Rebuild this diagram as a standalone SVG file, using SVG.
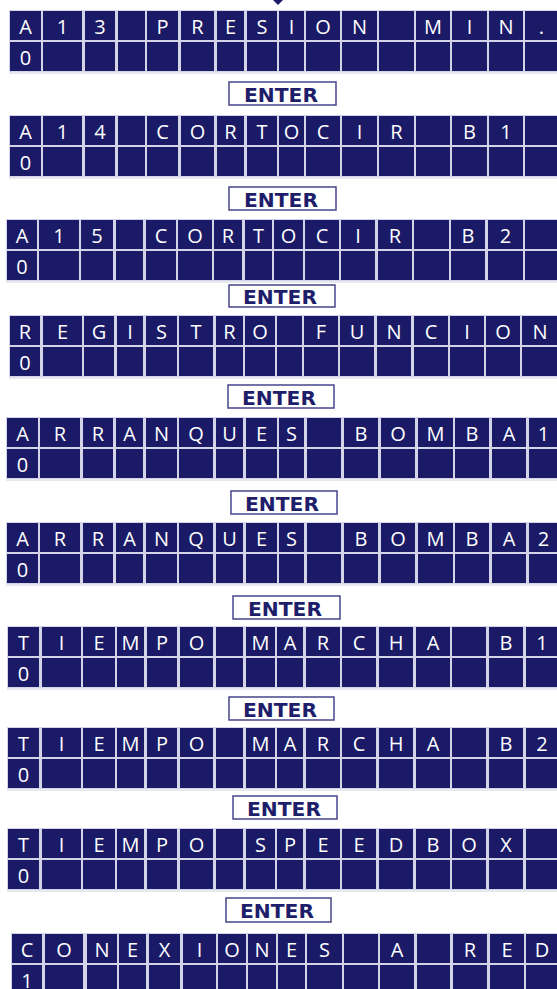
<svg xmlns="http://www.w3.org/2000/svg" xmlns:xlink="http://www.w3.org/1999/xlink" width="557" height="989" viewBox="0 0 557 989">
<style>
.bg{fill:#d4d4e8}
.sh{fill:#e8e8f0}
.c rect{fill:#1a1a66}
.t{font-family:"Open Sans","Noto Sans",sans-serif;font-size:20px;fill:#ffffff;text-anchor:middle}
.eb{fill:#ffffff;stroke:#45458a;stroke-width:1.5}
.et{font-family:"DejaVu Sans","Liberation Sans",sans-serif;font-weight:bold;font-size:19px;fill:#1e1e6a;text-anchor:middle}
</style>
<defs>
<g id="g1" class="c"><rect x="10" width="31" height="29"/><rect x="43" width="39" height="29"/><rect x="85" width="30" height="29"/><rect x="118" width="27" height="29"/><rect x="147" width="31" height="29"/><rect x="181" width="33" height="29"/><rect x="217" width="27" height="29"/><rect x="247" width="30" height="29"/><rect x="279" width="25" height="29"/><rect x="306" width="34" height="29"/><rect x="342" width="35" height="29"/><rect x="379" width="35" height="29"/><rect x="416" width="34" height="29"/><rect x="452" width="35" height="29"/><rect x="489" width="34" height="29"/><rect x="525" width="33" height="29"/></g>
<g id="g3" class="c"><rect x="7" width="30" height="29"/><rect x="39" width="40" height="29"/><rect x="81" width="32" height="29"/><rect x="116" width="27" height="29"/><rect x="146" width="30" height="29"/><rect x="178" width="34" height="29"/><rect x="214" width="28" height="29"/><rect x="245" width="27" height="29"/><rect x="274" width="29" height="29"/><rect x="305" width="34" height="29"/><rect x="341" width="34" height="29"/><rect x="378" width="34" height="29"/><rect x="414" width="35" height="29"/><rect x="451" width="34" height="29"/><rect x="488" width="35" height="29"/><rect x="525" width="33" height="29"/></g>
<g id="g4" class="c"><rect x="10" width="30" height="29"/><rect x="43" width="39" height="29"/><rect x="84" width="30" height="29"/><rect x="117" width="26" height="29"/><rect x="146" width="31" height="29"/><rect x="179" width="34" height="29"/><rect x="216" width="27" height="29"/><rect x="245" width="30" height="29"/><rect x="277" width="25" height="29"/><rect x="304" width="34" height="29"/><rect x="340" width="34" height="29"/><rect x="377" width="34" height="29"/><rect x="414" width="34" height="29"/><rect x="450" width="34" height="29"/><rect x="486" width="34" height="29"/><rect x="522" width="36" height="29"/></g>
<g id="g5" class="c"><rect x="7" width="31" height="29"/><rect x="40" width="40" height="29"/><rect x="83" width="30" height="29"/><rect x="116" width="27" height="29"/><rect x="146" width="31" height="29"/><rect x="179" width="34" height="29"/><rect x="216" width="27" height="29"/><rect x="246" width="31" height="29"/><rect x="279" width="25" height="29"/><rect x="307" width="34" height="29"/><rect x="344" width="34" height="29"/><rect x="381" width="34" height="29"/><rect x="418" width="35" height="29"/><rect x="455" width="34" height="29"/><rect x="492" width="34" height="29"/><rect x="529" width="29" height="29"/></g>
<g id="g7" class="c"><rect x="8" width="31" height="29"/><rect x="42" width="39" height="29"/><rect x="83" width="32" height="29"/><rect x="117" width="27" height="29"/><rect x="147" width="30" height="29"/><rect x="180" width="33" height="29"/><rect x="216" width="27" height="29"/><rect x="246" width="29" height="29"/><rect x="277" width="26" height="29"/><rect x="306" width="34" height="29"/><rect x="342" width="34" height="29"/><rect x="379" width="34" height="29"/><rect x="416" width="34" height="29"/><rect x="452" width="34" height="29"/><rect x="489" width="34" height="29"/><rect x="526" width="32" height="29"/></g>
<g id="g10" class="c"><rect x="12" width="30" height="29"/><rect x="45" width="38" height="29"/><rect x="87" width="30" height="29"/><rect x="119" width="27" height="29"/><rect x="149" width="31" height="29"/><rect x="183" width="33" height="29"/><rect x="218" width="28" height="29"/><rect x="248" width="28" height="29"/><rect x="278" width="27" height="29"/><rect x="307" width="35" height="29"/><rect x="344" width="34" height="29"/><rect x="380" width="34" height="29"/><rect x="417" width="33" height="29"/><rect x="453" width="34" height="29"/><rect x="490" width="34" height="29"/><rect x="526" width="32" height="29"/></g>
</defs>
<rect width="557" height="989" fill="#ffffff"/>
<polygon points="273,0 283,0 278,5" fill="#1a1a66"/>

<g id="lcd1" transform="translate(0,11)">
<rect class="bg" x="9" y="-1" width="549" height="62"/><rect class="sh" x="9" y="61" width="549" height="2"/>
<use href="#g1"/><use href="#g1" y="31"/>
<text class="t" y="23" x="25.5 62.5 100 131.5 162.5 197.5 230.5 262 291.5 323 359.5 396.5 433 469.5 506 541.5">A13 PRESION MIN.</text>
<text class="t" x="25.5" y="54">0</text>
</g>
<g id="enter1"><rect class="eb" x="229" y="82" width="107" height="23"/><text class="et" x="281" y="102" textLength="74" lengthAdjust="spacingAndGlyphs">ENTER</text></g>

<g id="lcd2" transform="translate(0,116)">
<rect class="bg" x="9" y="-1" width="549" height="62"/><rect class="sh" x="9" y="61" width="549" height="2"/>
<use href="#g1"/><use href="#g1" y="31"/>
<text class="t" y="23" x="25.5 62.5 100 131.5 162.5 197.5 230.5 262 291.5 323 359.5 396.5 433 469.5 506 541.5">A14 CORTOCIR B1</text>
<text class="t" x="25.5" y="54">0</text>
</g>
<g id="enter2"><rect class="eb" x="229" y="187" width="107" height="23"/><text class="et" x="281" y="207" textLength="74" lengthAdjust="spacingAndGlyphs">ENTER</text></g>

<g id="lcd3" transform="translate(0,220)">
<rect class="bg" x="6" y="-1" width="552" height="62"/><rect class="sh" x="6" y="61" width="552" height="2"/>
<use href="#g3"/><use href="#g3" y="31"/>
<text class="t" y="23" x="22 59 97 129.5 161 195 228 258.5 288.5 322 358 395 431.5 468 505.5 541.5">A15 CORTOCIR B2</text>
<text class="t" x="22" y="54">0</text>
</g>
<g id="enter3"><rect class="eb" x="229" y="285" width="106" height="22"/><text class="et" x="280" y="304" textLength="74" lengthAdjust="spacingAndGlyphs">ENTER</text></g>

<g id="lcd4" transform="translate(0,316)">
<rect class="bg" x="9" y="-1" width="549" height="62"/><rect class="sh" x="9" y="61" width="549" height="2"/>
<use href="#g4"/><use href="#g4" y="31"/>
<text class="t" y="23" x="25 62.5 99 130 161.5 196 229.5 260 289.5 321 357 394 431 467 503 540">REGISTRO FUNCION</text>
<text class="t" x="25" y="54">0</text>
</g>
<g id="enter4"><rect class="eb" x="228" y="385" width="106" height="23"/><text class="et" x="279" y="405" textLength="74" lengthAdjust="spacingAndGlyphs">ENTER</text></g>

<g id="lcd5" transform="translate(0,418)">
<rect class="bg" x="6" y="-1" width="552" height="62"/><rect class="sh" x="6" y="61" width="552" height="2"/>
<use href="#g5"/><use href="#g5" y="31"/>
<text class="t" y="23" x="22.5 60 98 129.5 161.5 196 229.5 261.5 291.5 324 361 398 435.5 472 509 543.5">ARRANQUES BOMBA1</text>
<text class="t" x="22.5" y="54">0</text>
</g>
<g id="enter5"><rect class="eb" x="231" y="491" width="106" height="23"/><text class="et" x="282" y="511" textLength="74" lengthAdjust="spacingAndGlyphs">ENTER</text></g>

<g id="lcd6" transform="translate(0,523)">
<rect class="bg" x="6" y="-1" width="552" height="62"/><rect class="sh" x="6" y="61" width="552" height="2"/>
<use href="#g5"/><use href="#g5" y="31"/>
<text class="t" y="23" x="22.5 60 98 129.5 161.5 196 229.5 261.5 291.5 324 361 398 435.5 472 509 543.5">ARRANQUES BOMBA2</text>
<text class="t" x="22.5" y="54">0</text>
</g>
<g id="enter6"><rect class="eb" x="233" y="596" width="107" height="23"/><text class="et" x="285" y="616" textLength="74" lengthAdjust="spacingAndGlyphs">ENTER</text></g>

<g id="lcd7" transform="translate(0,627)">
<rect class="bg" x="7" y="-1" width="551" height="62"/><rect class="sh" x="7" y="61" width="551" height="2"/>
<use href="#g7"/><use href="#g7" y="31"/>
<text class="t" y="23" x="23.5 61.5 99 130.5 162 196.5 229.5 260.5 290 323 359 396 433 469 506 542">TIEMPO MARCHA B1</text>
<text class="t" x="23.5" y="54">0</text>
</g>
<g id="enter7"><rect class="eb" x="229" y="697" width="105" height="23"/><text class="et" x="280" y="717" textLength="74" lengthAdjust="spacingAndGlyphs">ENTER</text></g>

<g id="lcd8" transform="translate(0,728)">
<rect class="bg" x="7" y="-1" width="551" height="62"/><rect class="sh" x="7" y="61" width="551" height="2"/>
<use href="#g7"/><use href="#g7" y="31"/>
<text class="t" y="23" x="23.5 61.5 99 130.5 162 196.5 229.5 260.5 290 323 359 396 433 469 506 542">TIEMPO MARCHA B2</text>
<text class="t" x="23.5" y="54">0</text>
</g>
<g id="enter8"><rect class="eb" x="233" y="796" width="104" height="23"/><text class="et" x="284" y="816" textLength="74" lengthAdjust="spacingAndGlyphs">ENTER</text></g>

<g id="lcd9" transform="translate(0,829)">
<rect class="bg" x="7" y="-1" width="551" height="62"/><rect class="sh" x="7" y="61" width="551" height="2"/>
<use href="#g7"/><use href="#g7" y="31"/>
<text class="t" y="23" x="23.5 61.5 99 130.5 162 196.5 229.5 260.5 290 323 359 396 433 469 506 542">TIEMPO SPEEDBOX</text>
<text class="t" x="23.5" y="54">0</text>
</g>
<g id="enter9"><rect class="eb" x="226" y="898" width="105" height="24"/><text class="et" x="277" y="918" textLength="74" lengthAdjust="spacingAndGlyphs">ENTER</text></g>

<g id="lcd10" transform="translate(0,934)">
<rect class="bg" x="11" y="-1" width="547" height="62"/>
<use href="#g10"/><use href="#g10" y="31"/>
<text class="t" y="23" x="27 64 102 132.5 164.5 199.5 232 262 291.5 324.5 361 397 433.5 470 507 542">CONEXIONES A RED</text>
<text class="t" x="27" y="54">1</text>
</g>
</svg>
